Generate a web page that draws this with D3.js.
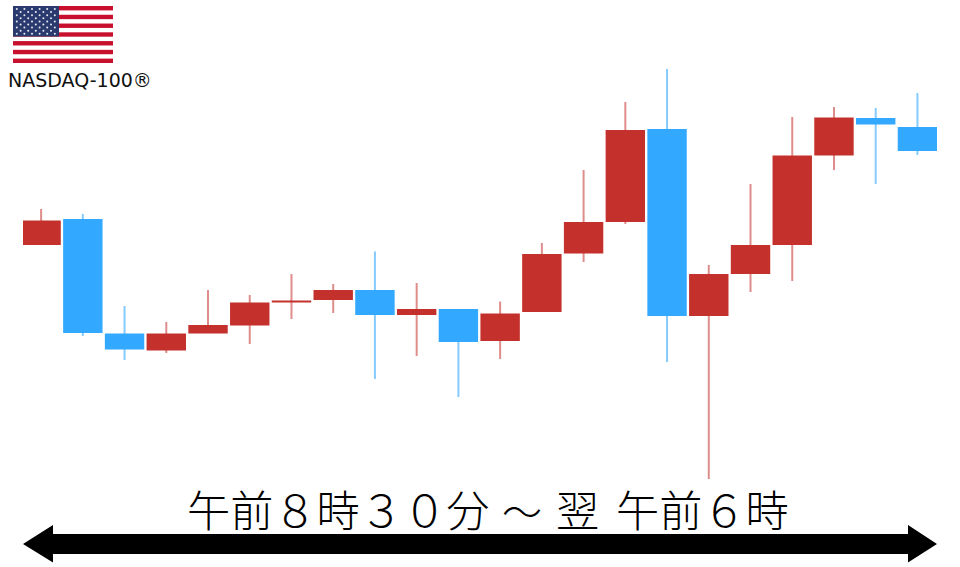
<!DOCTYPE html>
<html><head><meta charset="utf-8">
<script src="https://cdn.jsdelivr.net/npm/d3@7"></script>
<style>html,body{margin:0;padding:0;background:#fff}svg{display:block}</style>
</head><body><svg id="c" width="960" height="567"></svg>
<script>
// Values (index level, arbitrary units: 567 minus the pixel row)
const periods = d3.range(22).map(String);
const open  = [322,348,233.5,216.5,233.5,241.5,264.5,267,277,252,258,226,255,313.5,345,438,251,293,322,411.5,449,440];
const close = [346.5,234,217.5,233.5,242,264.5,266.5,277,252,258,225,253.5,313,345,437,251,293,322,411.5,449.5,442.5,416];
const high  = [358,353,261,245,277,272,293,283,315.5,284,258,265.5,324,397,465,498,302,383,450,460,459,474];
const low   = [322,231,207,214,234,223,248,254,188,211,170,208,255,305,343,205,88,275,286,397,383,412];
const titleParts = ["午前８時３０分","～","翌","午前６時"];
const label = "NASDAQ-100®";
const starRows = [6,5,6,5,6,5,6,5,6];
const stripes = d3.range(13);

const svg = d3.select("#c");
const x = d3.scaleBand().domain(periods).range([20.23,938.3]).paddingInner(.056).paddingOuter(.028);
const y = d3.scaleLinear().domain([0,567]).range([567,0]);

const RED="#c4302b", BLUE="#33a8ff";
svg.append("defs").append("clipPath").attr("id","plot").append("rect")
  .attr("x",23).attr("y",0).attr("width",914).attr("height",567);
const plot = svg.append("g").attr("clip-path","url(#plot)");
const col = i => close[i] >= open[i] ? RED : BLUE;

plot.selectAll("line.w").data(periods).join("line").attr("class","w")
  .attr("x1",d=>x(d)+x.bandwidth()/2).attr("x2",d=>x(d)+x.bandwidth()/2)
  .attr("y1",(d,i)=>y(high[i])).attr("y2",(d,i)=>y(low[i]))
  .attr("stroke",(d,i)=>col(i)).attr("stroke-opacity",(d,i)=>col(i)===RED?.55:.6).attr("stroke-width",2);

plot.selectAll("rect.b").data(periods).join("rect").attr("class","b")
  .attr("x",d=>x(d)).attr("width",x.bandwidth())
  .attr("y",(d,i)=>y(Math.max(open[i],close[i])))
  .attr("height",(d,i)=>Math.max(1.5,Math.abs(y(open[i])-y(close[i]))))
  .attr("fill",(d,i)=>col(i));

// Flag
const fx=d3.scaleLinear().domain([0,1]).range([13,113]);
const fy=d3.scaleBand().domain(stripes).range([6,63]);
const flag=svg.append("g");
flag.append("rect").attr("x",13).attr("y",6).attr("width",100).attr("height",57).attr("fill","#fff");
flag.selectAll("rect.s").data(stripes.filter(d=>d%2===0)).join("rect").attr("class","s")
  .attr("x",fx(0)).attr("width",fx(1)-fx(0)).attr("y",d=>fy(d)).attr("height",fy.bandwidth()).attr("fill","#c8102e");
flag.append("rect").attr("x",13).attr("y",6).attr("width",46).attr("height",30.5).attr("fill","#2a3a6e");
starRows.forEach((n,r)=>{
  d3.range(n).forEach(k=>{
    flag.append("circle").attr("cx",13+ (n===6?3.8:7.6)+k*7.6).attr("cy",9+r*3.1).attr("r",1).attr("fill","#e8ebf4");
  });
});

svg.append("text").attr("x",8).attr("y",86.5).attr("font-family","'DejaVu Sans'").attr("font-size",19).attr("fill","#111").text(label);

// Title, in four pieces with the reference's gaps
const titleX=[187,502,556,616], titleSize=[43.2,40,43.2,43.2];
svg.selectAll("text.t").data(titleParts).join("text").attr("class","t")
  .attr("x",(d,i)=>titleX[i]).attr("y",527)
  .attr("font-family","'Noto Sans CJK JP'").attr("font-weight",300)
  .attr("font-size",(d,i)=>titleSize[i]).attr("fill","#000").text(d=>d);

// Arrow
svg.append("path").attr("fill","#000").attr("d",d3.line()([[23,544],[53,525],[53,534],[908,534],[908,525],[937,544],[908,562.5],[908,554],[53,554],[53,562.5]])+"Z");
</script></body></html>
